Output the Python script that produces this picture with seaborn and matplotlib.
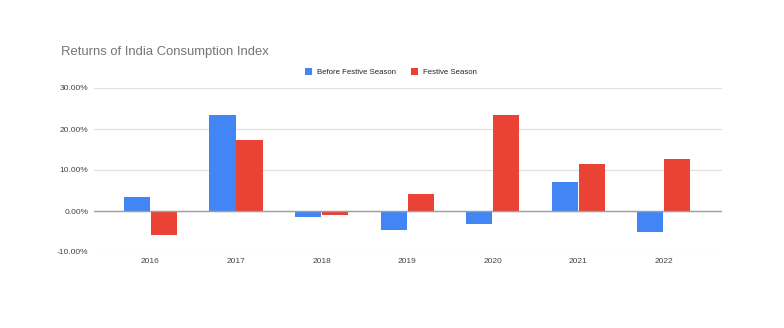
import matplotlib
matplotlib.use("Agg")
import matplotlib.pyplot as plt
import seaborn as sns
import pandas as pd
from matplotlib.ticker import FuncFormatter
from matplotlib.patches import Patch

years = ["2016", "2017", "2018", "2019", "2020", "2021", "2022"]
before_festive = [3.4, 23.4, -1.4, -4.7, -3.2, 7.1, -5.0]
festive = [-5.8, 17.3, -1.0, 4.2, 23.3, 11.4, 12.7]
series_names = ["Before Festive Season", "Festive Season"]
colors = ["#4285F4", "#EA4335"]

df = pd.DataFrame({
    "Year": years * 2,
    "Return": [v / 100 for v in before_festive] + [v / 100 for v in festive],
    "Series": [series_names[0]] * len(years) + [series_names[1]] * len(years),
})

sns.set_theme(style="white")
plt.rcParams["font.family"] = ["Liberation Sans", "DejaVu Sans"]

fig = plt.figure(figsize=(7.84, 3.28), dpi=100)
ax = fig.add_axes([94 / 784, 1 - 252 / 328, (722 - 94) / 784, (252 - 88) / 328])

sns.barplot(data=df, x="Year", y="Return", hue="Series", palette=colors,
            width=0.63, gap=0.03, ax=ax, legend=False, saturation=1,
            edgecolor="none", zorder=3)

ax.set_ylim(-0.10, 0.30)
ax.set_yticks([-0.10, 0.0, 0.10, 0.20, 0.30])
ax.yaxis.set_major_formatter(FuncFormatter(lambda v, p: f"{v*100:.2f}%"))
ax.set_xlim(-0.66, 6.68)
ax.grid(axis="y", color="#e0e0e0", linewidth=0.9, zorder=0)
ax.axhline(0, color="#9e9e9e", linewidth=1.0, zorder=4)
for s in ax.spines.values():
    s.set_visible(False)
ax.tick_params(axis="both", length=0, labelsize=6, colors="#444444")
ax.tick_params(axis="y", pad=4)
ax.tick_params(axis="x", pad=4)
ax.set_xlabel("")
ax.set_ylabel("")

fig.text(61 / 784, 1 - 52 / 328, "Returns of India Consumption Index",
         fontsize=9.35, color="#757575", va="center", ha="left")

handles = [Patch(facecolor=c, edgecolor="none") for c in colors]
fig.legend(handles, series_names, loc="center", bbox_to_anchor=(391 / 784, 1 - 72 / 328),
           ncol=2, frameon=False, fontsize=5.6, handlelength=0.9, handleheight=0.9,
           handletextpad=0.6, columnspacing=2.0, labelcolor="#222222")

fig.savefig("out.png", dpi=100, facecolor="white")
